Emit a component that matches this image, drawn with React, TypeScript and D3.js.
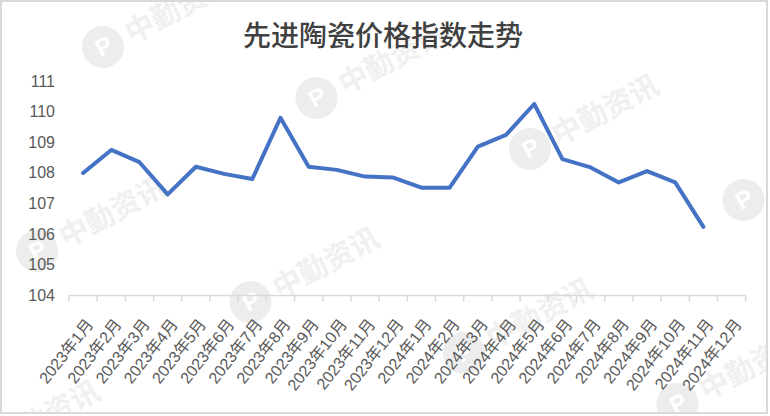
import React from 'react';
import * as d3 from 'd3';

const title = '先进陶瓷价格指数走势';
const categories = [
  '2023年1月', '2023年2月', '2023年3月', '2023年4月', '2023年5月', '2023年6月',
  '2023年7月', '2023年8月', '2023年9月', '2023年10月', '2023年11月', '2023年12月',
  '2024年1月', '2024年2月', '2024年3月', '2024年4月', '2024年5月', '2024年6月',
  '2024年7月', '2024年8月', '2024年9月', '2024年10月', '2024年11月', '2024年12月',
];
const values = [
  108.0, 108.75, 108.35, 107.3, 108.2, 107.97, 107.8, 109.8, 108.2, 108.1, 107.88, 107.85,
  107.52, 107.52, 108.86, 109.24, 110.25, 108.45, 108.18, 107.69, 108.06, 107.69, 106.24,
];
const yTicks = [104, 105, 106, 107, 108, 109, 110, 111];
const watermarkText = '中勤资讯';

const W = 770;
const H = 416;
const axisY = 295.5;

export default function App() {
  const x = d3.scaleBand<string>().domain(categories).range([69, 745.7]).padding(0);
  const y = d3.scaleLinear().domain([104, 111]).range([axisY, 81]);
  const cx = (c: string) => (x(c) as number) + x.bandwidth() / 2;

  const line = d3
    .line<number>()
    .x((_, i) => cx(categories[i]))
    .y((d) => y(d));

  const tickXs = [...categories.map((c) => x(c) as number), x.range()[1]];

  // watermark grid (decorative)
  const marks: { lx: number; ly: number; key: string }[] = [];
  for (let j = -1; j <= 2; j++) {
    for (let i = -1; i <= 4; i++) {
      const lx = 103 + i * 213.5 - j * 66;
      const ly = 47 + i * 51 + j * 204;
      if (lx > -60 && lx < 790 && ly > 20 && ly < 470) marks.push({ lx, ly, key: `${i}_${j}` });
    }
  }

  const labelFont = '"Liberation Sans", "Noto Sans CJK SC", sans-serif';

  return (
    <svg
      width={W}
      height={H}
      viewBox={`0 0 ${W} ${H}`}
      style={{ position: 'absolute', left: 0, top: 0, background: '#ffffff' }}
    >
      <defs>
        <clipPath id="clipAll">
          <rect x={2} y={2} width={764} height={410} />
        </clipPath>
      </defs>
      <rect x={0} y={0} width={W} height={H} fill="#ffffff" />

      <g clipPath="url(#clipAll)">
        {marks.map((m) => (
          <g key={m.key} transform={`translate(${m.lx},${m.ly}) rotate(-28)`}>
            <circle cx={0} cy={0} r={21} fill="#ededed" />
            <text
              x={1}
              y={8}
              textAnchor="middle"
              fontSize={24}
              fontWeight="bold"
              fill="#ffffff"
              fontFamily='"Liberation Sans", sans-serif'
            >
              P
            </text>
            <text
              x={27}
              y={11}
              fontSize={29}
              fontWeight="bold"
              fill="#f0f0f0"
              fontFamily='"Noto Sans CJK SC", sans-serif'
            >
              {watermarkText}
            </text>
          </g>
        ))}
      </g>

      <rect x={1} y={1} width={766} height={412} fill="none" stroke="#d9d9d9" strokeWidth={2} />

      <text
        x={383}
        y={46}
        textAnchor="middle"
        fontSize={28}
        fontWeight={500}
        fill="#404040"
        fontFamily='"Noto Sans CJK SC", sans-serif'
      >
        {title}
      </text>

      {yTicks.map((t) => (
        <text
          key={t}
          x={55}
          y={y(t)}
          textAnchor="end"
          dominantBaseline="central"
          fontSize={16}
          fill="#595959"
          fontFamily={labelFont}
        >
          {t}
        </text>
      ))}

      <line x1={x.range()[0]} x2={x.range()[1]} y1={axisY} y2={axisY} stroke="#d9d9d9" strokeWidth={1.5} />
      {tickXs.map((tx, i) => (
        <line key={i} x1={tx} x2={tx} y1={axisY} y2={axisY + 6} stroke="#d9d9d9" strokeWidth={1.5} />
      ))}

      {categories.map((c) => (
        <text
          key={c}
          transform={`translate(${cx(c) + 11},${axisY + 29}) rotate(-52)`}
          textAnchor="end"
          fontSize={16}
          fill="#595959"
          fontFamily={labelFont}
        >
          {c}
        </text>
      ))}

      <path
        d={line(values) || ''}
        fill="none"
        stroke="#4472C4"
        strokeWidth={4}
        strokeLinejoin="round"
        strokeLinecap="round"
      />
    </svg>
  );
}
